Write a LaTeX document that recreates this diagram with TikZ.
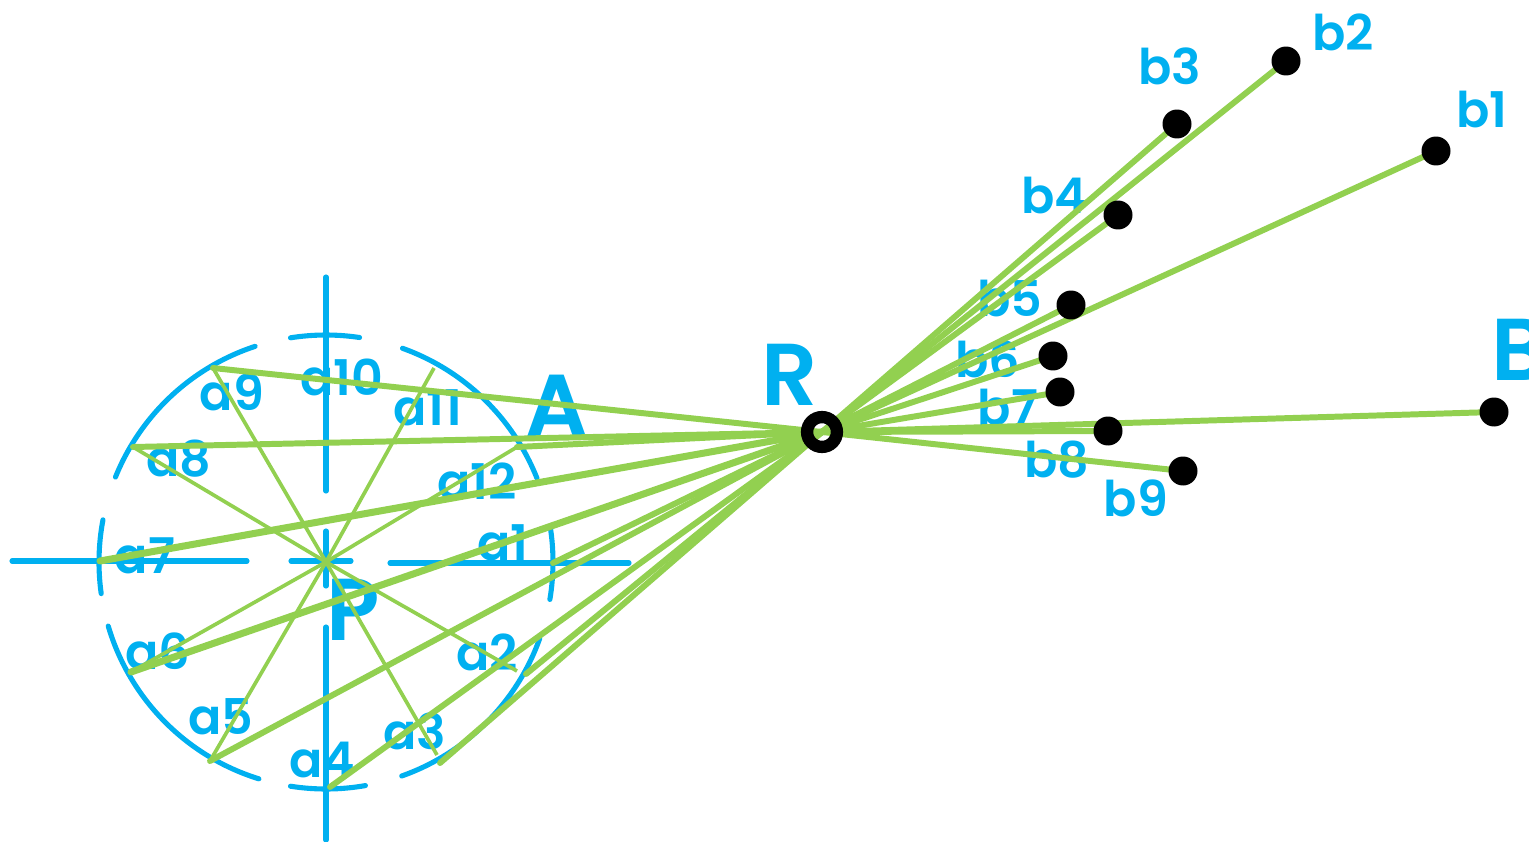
\documentclass[tikz,border=0pt]{standalone}
\usepackage{fontspec}
\setmainfont{Poppins SemiBold}[BoldFont={Poppins SemiBold}]
\usetikzlibrary{shapes.geometric}
\definecolor{lineblue}{HTML}{00B0F0}
\definecolor{linegreen}{HTML}{92D050}
\tikzstyle{axisline} = [line width=2.9pt, draw=lineblue, line cap=round]
\tikzstyle{rim} = [line width=2.9pt, draw=lineblue, line cap=round]
\tikzstyle{spoke} = [line width=2.1pt, draw=linegreen]
\tikzstyle{ray} = [line width=3.4pt, draw=linegreen, line cap=round]
\tikzstyle{fatray} = [line width=4pt, draw=linegreen, line cap=round]
\tikzstyle{smalltag} = [text=lineblue, font=\fontsize{28}{28}\selectfont, inner sep=0pt]
\tikzstyle{bigtag} = [text=lineblue, font=\bfseries\fontsize{50}{50}\selectfont, inner sep=0pt]
\tikzstyle{dotnode} = [circle, fill=black, minimum size=16.5pt, inner sep=0pt, outer sep=0pt]
\tikzstyle{hub} = [circle, draw=black, line width=7pt, minimum size=17pt, inner sep=0pt, outer sep=0pt]

\begin{document}
\begin{tikzpicture}[x=0.02cm, y=-0.02cm]

    \useasboundingbox (0,0) rectangle (1529,842);

    % points on the wheel
    \coordinate (P) at (326,562);
    \coordinate (R) at (822,432);
    \coordinate (a1) at (553,563);
    \coordinate (a2) at (526,674);
    \coordinate (a3) at (440,763);
    \coordinate (a4) at (330,787);
    \coordinate (a5) at (210,761);
    \coordinate (a6) at (131,672);
    \coordinate (a7) at (100,561);
    \coordinate (a8) at (133,447);
    \coordinate (a9) at (213,368);
    \coordinate (c2) at (517,671);
    \coordinate (c3) at (437,755);
    \coordinate (c11) at (434,368);
    \coordinate (c12) at (517,447);

    % points on the right
    \coordinate (b1) at (1436,151);
    \coordinate (b2) at (1286,61);
    \coordinate (b3) at (1177,124);
    \coordinate (b4) at (1118,215);
    \coordinate (b5) at (1071,305);
    \coordinate (b6) at (1053,356);
    \coordinate (b7) at (1060,392);
    \coordinate (b8) at (1108,431);
    \coordinate (b9) at (1183,471);
    \coordinate (B) at (1494,412);

    % blue rim
    \foreach \from/\to in {-99/-81.5, -70.3/-21.7, -9.1/9.5, 19.6/70.5, 80/99, 107.2/163.6, 172/190.7, 202/251.8}
        \draw [rim] (P) ++(\from:227) arc [start angle=\from, end angle=\to, radius=227];

    % blue axes
    \coordinate (v1) at (326,277);
    \coordinate (v2) at (326,491);
    \coordinate (v3) at (326,531);
    \coordinate (v4) at (326,586);
    \coordinate (v5) at (326,627);
    \coordinate (v6) at (326,840);
    \coordinate (h1) at (12,561);
    \coordinate (h2) at (247,561);
    \coordinate (h3) at (291,561);
    \coordinate (h4) at (351,561);
    \coordinate (h5) at (390,563);
    \coordinate (h6) at (629,563);
    \draw [axisline] (v1) -- (v2);
    \draw [axisline] (v3) -- (v4);
    \draw [axisline] (v5) -- (v6);
    \draw [axisline] (h1) -- (h2);
    \draw [axisline] (h3) -- (h4);
    \draw [axisline] (h5) -- (h6);

    % labels
    \node (la1) [smalltag] at (503,543) {a1};
    \node (la2) [smalltag] at (487,652) {a2};
    \node (la3) [smalltag] at (415,731) {a3};
    \node (la4) [smalltag] at (322,760) {a4};
    \node (la5) [smalltag] at (221,717) {a5};
    \node (la6) [smalltag] at (158,651) {a6};
    \node (la7) [smalltag] at (145,556) {a7};
    \node (la8) [smalltag] at (179,459) {a8};
    \node (la9) [smalltag] at (232,392) {a9};
    \node (la10) [smalltag] at (342,377) {a10};
    \node (la11) [smalltag] at (428,408) {a11};
    \node (la12) [smalltag] at (477,481) {a12};
    \node (lb1) [smalltag] at (1482,110) {b1};
    \node (lb2) [smalltag] at (1343,32) {b2};
    \node (lb3) [smalltag] at (1170,66) {b3};
    \node (lb4) [smalltag] at (1054,196) {b4};
    \node (lb5) [smalltag] at (1010,299) {b5};
    \node (lb6) [smalltag] at (988,359) {b6};
    \node (lb7) [smalltag] at (1008,408) {b7};
    \node (lb8) [smalltag] at (1057,460) {b8};
    \node (lb9) [smalltag] at (1136,498) {b9};
    \node (lA) [bigtag] at (557,406) {A};
    \node (lP) [bigtag] at (353,610) {P};
    \node (lR) [bigtag] at (790,375) {R};
    \node (lB) [bigtag] at (1520,350) {B};

    % thin spokes from P
    \foreach \p in {c2, c3, a5, a6, a8, a9, c11, c12}
        \draw [spoke] (P) -- (\p);

    % rays from R
    \foreach \p in {a1, a2, a3, a4, a5, a8, a9, c12, b1, b2, b3, b4, b5, b6, b7, b8, b9, B}
        \draw [ray] (R) -- (\p);
    \foreach \p in {a6, a7}
        \draw [fatray] (R) -- (\p);

    % dots
    \foreach \p in {b1, b2, b3, b4, b5, b6, b7, b8, b9, B}
        \node (\p dot) [dotnode] at (\p) {};
    \node (hubR) [hub] at (R) {};

\end{tikzpicture}
\end{document}
